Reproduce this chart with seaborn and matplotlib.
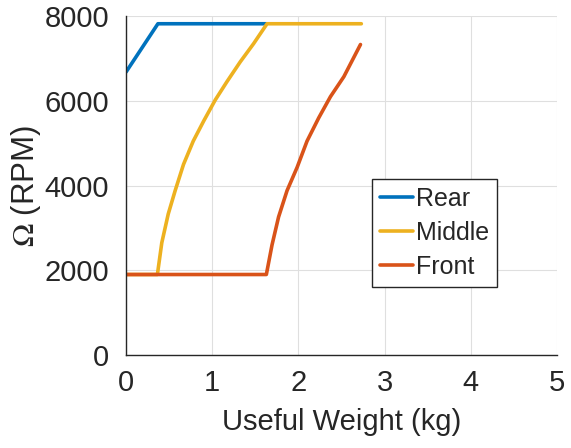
import matplotlib
matplotlib.use("Agg")
import matplotlib.pyplot as plt
import seaborn as sns
import pandas as pd

# Data
rear_x = [0.0, 0.37, 1.63]
rear_y = [6680, 7820, 7820]

middle_x = [0.0, 0.364, 0.415, 0.49, 0.57, 0.667, 0.78, 0.90, 1.035, 1.17, 1.325, 1.48, 1.636, 2.73]
middle_y = [1900, 1900, 2650, 3330, 3880, 4500, 5050, 5520, 6020, 6450, 6920, 7350, 7820, 7820]

front_x = [0.0, 1.628, 1.694, 1.77, 1.868, 1.985, 2.10, 2.236, 2.372, 2.527, 2.72]
front_y = [1900, 1900, 2600, 3260, 3880, 4430, 5050, 5600, 6100, 6570, 7330]

series_names = ["Rear", "Middle", "Front"]
colors = ["#0072BD", "#EDB120", "#D95319"]

x_ticks = [0, 1, 2, 3, 4, 5]
y_ticks = [0, 2000, 4000, 6000, 8000]
x_label = "Useful Weight (kg)"
y_label = "$\\Omega$ (RPM)"

frames = []
for name, xs, ys in zip(series_names, [rear_x, middle_x, front_x], [rear_y, middle_y, front_y]):
    frames.append(pd.DataFrame({"x": xs, "y": ys, "series": name}))
df = pd.concat(frames, ignore_index=True)

sns.set_style("whitegrid")
plt.rcParams['font.family'] = ['Liberation Sans', 'DejaVu Sans']
plt.rcParams['mathtext.fontset'] = 'stix'

fig = plt.figure(figsize=(5.71, 4.48), dpi=100)
ax = fig.add_axes([0.2207, 0.2076, 0.7548, 0.7564])

sns.lineplot(data=df, x="x", y="y", hue="series", hue_order=series_names,
             palette=colors, estimator=None, sort=False, linewidth=2.6, ax=ax)

ax.set_xlim(0, 5)
ax.set_ylim(0, 8000)
ax.set_xticks(x_ticks)
ax.set_yticks(y_ticks)
ax.set_xticklabels([str(t) for t in x_ticks])
ax.set_yticklabels([str(t) for t in y_ticks])
ax.tick_params(axis='both', labelsize=21, colors="#262626", length=0)
ax.tick_params(axis='x', pad=10)
ax.tick_params(axis='y', pad=12)
ax.grid(True, color="#dfdfdf", linewidth=0.8)
for s in ["top", "right"]:
    ax.spines[s].set_visible(False)
for s in ["left", "bottom"]:
    ax.spines[s].set_color("#262626")
    ax.spines[s].set_linewidth(1.0)

ax.set_xlabel(x_label, fontsize=21, color="#262626", labelpad=8)
ax.set_ylabel(y_label, fontsize=22.5, color="#262626", labelpad=1)

leg = ax.legend(loc="upper left", bbox_to_anchor=(0.571, 0.519), fontsize=18,
                frameon=True, fancybox=False, handlelength=1.3, handletextpad=0.12,
                borderpad=0.32, labelspacing=0.4, borderaxespad=0)
leg.get_frame().set_edgecolor("#262626")
leg.get_frame().set_linewidth(1.0)
leg.get_frame().set_alpha(1)
for t in leg.get_texts():
    t.set_color("#262626")
for line in leg.get_lines():
    line.set_linewidth(2.6)

fig.savefig("out.png", dpi=100)
